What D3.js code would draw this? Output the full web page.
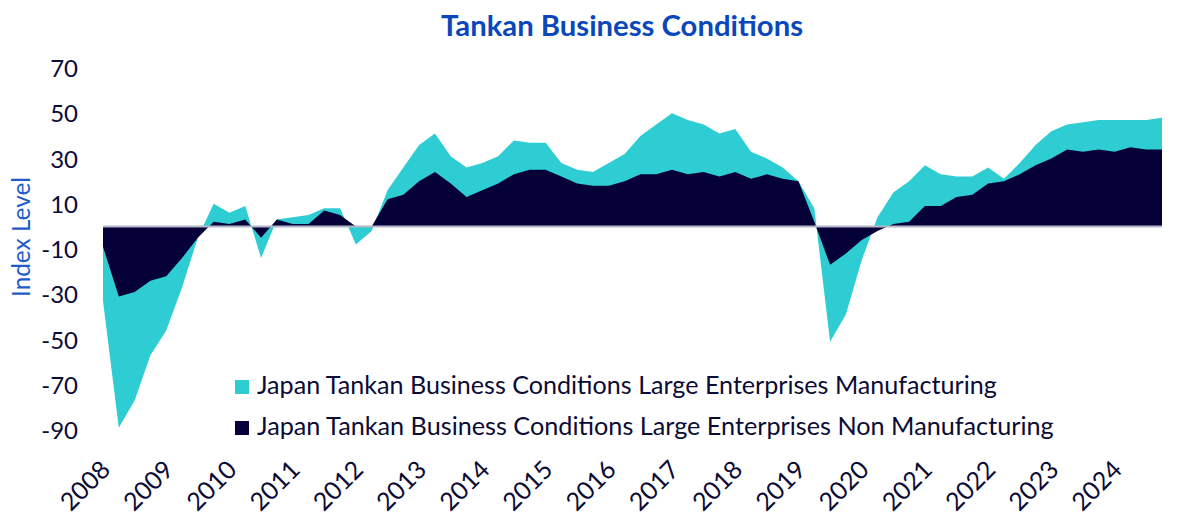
<!DOCTYPE html>
<html>
<head>
<meta charset="utf-8">
<script src="https://cdn.jsdelivr.net/npm/d3@7"></script>
<style>
  body { margin: 0; background: #fff; }
  svg { display: block; font-family: Lato, "Open Sans", sans-serif; }
</style>
</head>
<body>
<div class="canvas"></div>
<script>
// quarterly readings, 2008 Q1 .. 2024 Q4
const years = d3.range(2008, 2025);
const manufacturing = [-33, -89, -77, -57, -46, -27, -5, 10, 6, 9,
  -14, 3, 4, 5, 8, 8, -8, -2, 16, 26,
  36, 41, 31, 26, 28, 31, 38, 37, 37, 28,
  25, 24, 28, 32, 40, 45, 50, 47, 45, 41,
  43, 33, 30, 26, 20, 8, -51, -39, -15, 4,
  15, 20, 27, 23, 22, 22, 26, 21, 28, 36,
  42, 45, 46, 47, 47, 47, 47, 48];
const nonManufacturing = [-9, -31, -29, -24, -22, -14, -5, 2, 1, 3,
  -5, 3, 1, 1, 7, 5, 0, 0, 12, 14,
  20, 24, 19, 13, 16, 19, 23, 25, 25, 22,
  19, 18, 18, 20, 23, 23, 25, 23, 24, 22,
  24, 21, 23, 21, 20, 2, -17, -12, -6, -2,
  1, 2, 9, 9, 13, 14, 19, 20, 23, 27,
  30, 34, 33, 34, 33, 35, 34, 34];
const yTicks = [70, 50, 30, 10, -10, -30, -50, -70, -90];
const seriesNames = [
  "Japan Tankan Business Conditions Large Enterprises Manufacturing",
  "Japan Tankan Business Conditions Large Enterprises Non Manufacturing"
];

const W = 1200, H = 531;
const cyan = "#2ecdd3", navy = "#050038", ink = "#0b0b35";

const svg = d3.select(".canvas").append("svg")
  .attr("width", W).attr("height", H);

const xScale = d3.scaleLinear().domain([0, manufacturing.length - 1]).range([103, 1162]);
const yScale = d3.scaleLinear().domain([-90, 70]).range([430, 68]);

// stretch/shrink a text's font size so it spans a given width
let fit = (sel, width) => {
  let len = sel.node().getComputedTextLength();
  let fs = parseFloat(sel.attr("font-size"));
  sel.attr("font-size", (fs * width / len).toFixed(2));
};

let area = (vals) => d3.area()
  .x((d, i) => xScale(i))
  .y0(yScale(0))
  .y1((d) => yScale(d))(vals);

svg.append("path").attr("d", area(manufacturing)).attr("fill", cyan);
svg.append("path").attr("d", area(nonManufacturing)).attr("fill", navy);

svg.append("line")
  .attr("x1", xScale(0)).attr("x2", xScale(manufacturing.length - 1))
  .attr("y1", yScale(0)).attr("y2", yScale(0))
  .attr("stroke", "#b4b8c8").attr("stroke-width", 2);

// y axis, labels only (plain hyphen for negatives, like the original)
let yAxis = svg.append("g")
  .attr("transform", "translate(80,0)")
  .call(d3.axisLeft(yScale).tickValues(yTicks).tickFormat((d) => String(d))
    .tickSize(0).tickPadding(2));
yAxis.select(".domain").remove();
yAxis.selectAll("text")
  .attr("font-size", 24).attr("font-family", "Lato, sans-serif")
  .attr("fill", ink).attr("dy", "0.36em");

// x axis: one label per year at Q1
let xAxis = svg.append("g")
  .attr("transform", "translate(0,440)")
  .call(d3.axisBottom(xScale)
    .tickValues(years.map((y, i) => i * 4))
    .tickFormat((d, i) => years[i])
    .tickSize(0));
xAxis.select(".domain").remove();
xAxis.selectAll("text")
  .attr("font-size", 25).attr("font-family", "Lato, sans-serif")
  .attr("fill", ink)
  .attr("text-anchor", "end")
  .attr("dy", "0.35em")
  .attr("transform", "translate(0,23) rotate(-45)");

// title
let title = svg.append("text")
  .attr("x", 622).attr("y", 36)
  .attr("text-anchor", "middle")
  .attr("font-size", 26).attr("font-weight", "bold")
  .attr("fill", "#0a47bb")
  .text("Tankan Business Conditions");
fit(title, 362);

// y axis title
let yLabel = svg.append("text")
  .attr("transform", "translate(30,237) rotate(-90)")
  .attr("text-anchor", "middle")
  .attr("font-size", 22)
  .attr("fill", "#1f5cc7")
  .text("Index Level");
fit(yLabel, 120);

// legend
let legend = svg.append("g");
let widths = [740, 797];
[cyan, navy].forEach((c, i) => {
  let row = legend.append("g").attr("transform", `translate(235,${380 + i * 41})`);
  row.append("rect").attr("width", 14).attr("height", 14).attr("fill", c);
  let t = row.append("text")
    .attr("x", 22).attr("y", 14)
    .attr("font-size", 22).attr("fill", ink)
    .text(seriesNames[i]);
  fit(t, widths[i]);
});
</script>
</body>
</html>
